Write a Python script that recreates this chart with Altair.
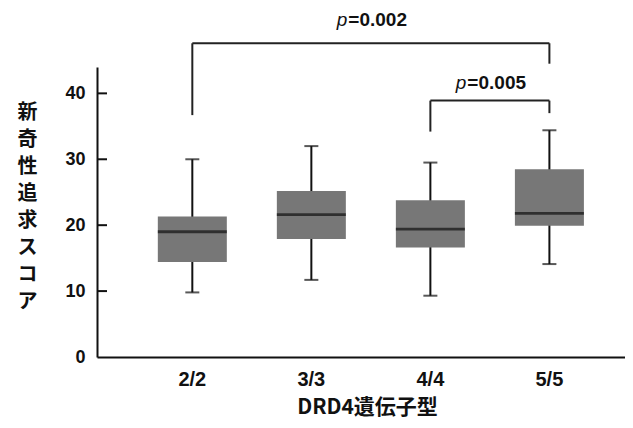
import altair as alt
import pandas as pd

# ---- data ----
genotypes = ["2/2", "3/3", "4/4", "5/5"]
whisker_low = [9.8, 11.7, 9.3, 14.1]
q1 = [14.4, 17.9, 16.6, 19.9]
median = [19.0, 21.6, 19.4, 21.8]
q3 = [21.3, 25.2, 23.8, 28.5]
whisker_high = [30.0, 32.0, 29.5, 34.4]

y_tick_values = [10, 20, 30, 40]

cmp_from = ["2/2", "4/4"]
cmp_to = ["5/5", "5/5"]
cmp_top = [47.6, 38.9]
cmp_left_end = [36.7, 34.2]
cmp_right_end = [44.5, 37.0]
cmp_label_y = [51.1, 41.6]
cmp_label_anchor = ["3/3", "4/4"]   # category half a step left of the bracket midpoint
cmp_p_value = ["=0.002", "=0.005"]

CJK = "Noto Sans CJK JP"
LAT = "Liberation Sans"
BOX_COLOR = "#777777"
INK = "#111111"

W, H = 528, 290
step = 119.0
half = step / 2

box_df = pd.DataFrame({
    "g": genotypes, "low": whisker_low, "q1": q1, "med": median,
    "q3": q3, "high": whisker_high,
})
cmp_df = pd.DataFrame({
    "from": cmp_from, "to": cmp_to, "top": cmp_top,
    "lend": cmp_left_end, "rend": cmp_right_end,
    "ly": cmp_label_y, "anchor": cmp_label_anchor, "p": cmp_p_value,
})
tick_df = pd.DataFrame({"v": y_tick_values})

xscale = alt.Scale(domain=genotypes, paddingInner=0, paddingOuter=0.218, align=0.69)
yscale = alt.Scale(domain=[0, 44], nice=False, zero=True)

xaxis = alt.Axis(
    title="DRD4遺伝子型", labelAngle=0, ticks=False, labelPadding=12,
    labelFontSize=20, labelFontWeight="bold", labelFont=LAT, labelColor=INK,
    titleFontSize=21, titleFontWeight="bold", titleFont=CJK, titleColor=INK,
    titleBaseline="alphabetic", titleY=56.8, titleX=270,
    domainColor=INK, domainWidth=2,
)
yaxis = alt.Axis(
    title=list("新奇性追求スコア"), titleAngle=0, titleAlign="center",
    titleBaseline="middle", titleX=-70, titleY=45.5, titleLineHeight=27,
    titleFontSize=20, titleFontWeight="bold", titleFont=CJK, titleColor=INK,
    values=[0, 10, 20, 30, 40], ticks=False, grid=False, labelPadding=12,
    labelFontSize=18, labelFontWeight="bold", labelFont=LAT, labelColor=INK,
    domainColor=INK, domainWidth=2,
)

base = alt.Chart(box_df)

whiskers = base.mark_rule(strokeWidth=2, color=INK).encode(
    x=alt.X("g:N", scale=xscale, axis=xaxis),
    y=alt.Y("low:Q", scale=yscale, axis=yaxis), y2="high:Q",
)
boxes = base.mark_bar(size=69, color=BOX_COLOR).encode(
    x=alt.X("g:N", scale=xscale), y=alt.Y("q1:Q", scale=yscale), y2="q3:Q"
)
medians = base.mark_tick(size=69, thickness=2.8, color=INK).encode(
    x=alt.X("g:N", scale=xscale), y=alt.Y("med:Q", scale=yscale)
)
cap_low = base.mark_tick(size=14, thickness=2, color=INK).encode(
    x=alt.X("g:N", scale=xscale), y=alt.Y("low:Q", scale=yscale)
)
cap_high = base.mark_tick(size=14, thickness=2, color=INK).encode(
    x=alt.X("g:N", scale=xscale), y=alt.Y("high:Q", scale=yscale)
)

inner_ticks = alt.Chart(tick_df).mark_rule(strokeWidth=2, color=INK).encode(
    x=alt.value(0), x2=alt.value(10), y=alt.Y("v:Q", scale=yscale)
)

cbase = alt.Chart(cmp_df)
br_h = cbase.mark_rule(strokeWidth=2, color="#222222").encode(
    x=alt.X("from:N", scale=xscale), x2="to:N", y=alt.Y("top:Q", scale=yscale)
)
br_l = cbase.mark_rule(strokeWidth=2, color="#222222").encode(
    x=alt.X("from:N", scale=xscale), y=alt.Y("lend:Q", scale=yscale), y2="top:Q"
)
br_r = cbase.mark_rule(strokeWidth=2, color="#222222").encode(
    x=alt.X("to:N", scale=xscale), y=alt.Y("rend:Q", scale=yscale), y2="top:Q"
)
p_italic = cbase.mark_text(
    text="p", font=LAT, fontSize=19, fontStyle="italic", fontWeight="normal",
    align="right", baseline="middle", dx=half - 23.5, color=INK,
).encode(x=alt.X("anchor:N", scale=xscale), y=alt.Y("ly:Q", scale=yscale))
p_value = cbase.mark_text(
    font=LAT, fontSize=19, fontWeight="bold",
    align="left", baseline="middle", dx=half - 22.5, color=INK,
).encode(x=alt.X("anchor:N", scale=xscale), y=alt.Y("ly:Q", scale=yscale), text="p:N")

chart = alt.layer(
    whiskers, boxes, medians, cap_low, cap_high, inner_ticks,
    br_h, br_l, br_r, p_italic, p_value,
).properties(
    width=W, height=H,
    autosize=alt.AutoSizeParams(type="none"),
    padding={"left": 89, "top": 59, "right": 0, "bottom": 63},
).configure(background="white").configure_view(stroke=None, strokeWidth=0)

chart.save("out.html", embed_options={"renderer": "svg", "actions": False})
